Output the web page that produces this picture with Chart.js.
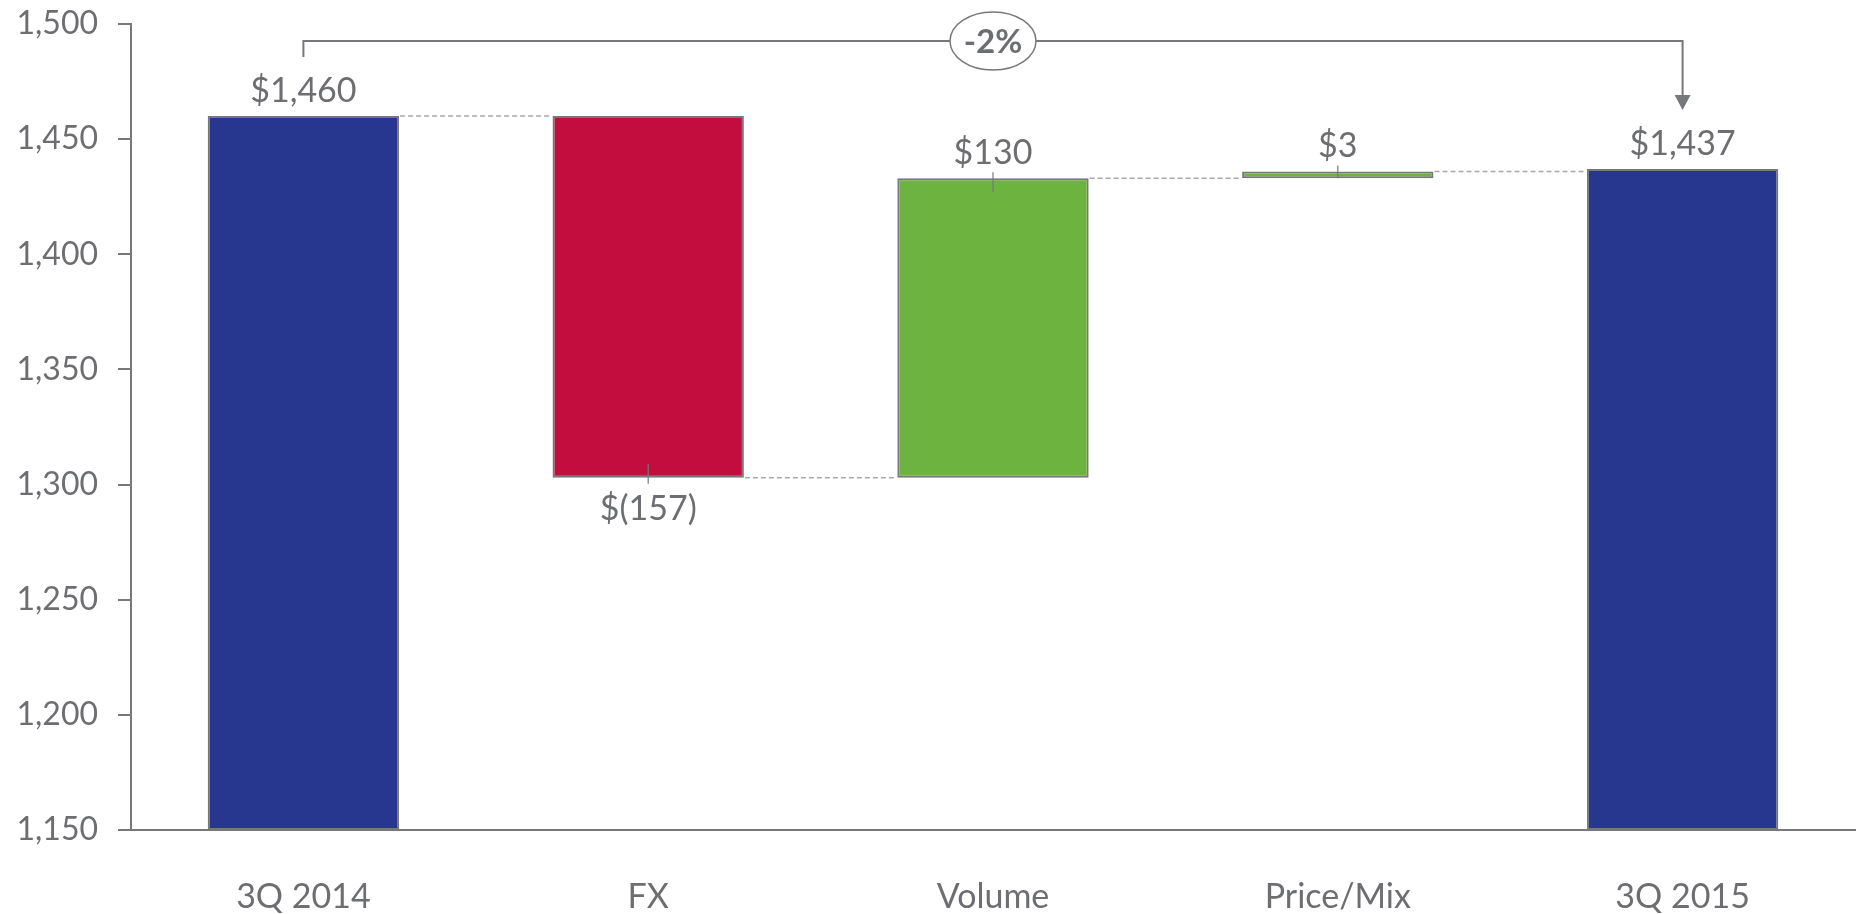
<!DOCTYPE html>
<html lang="en">
<head>
  <meta charset="UTF-8"/>
  <title>3Q Bridge</title>
  <script src="https://cdn.jsdelivr.net/npm/chart.js"></script>
  <style>
    body {
      margin: 0;
      background: #fff;
    }

    .wrap {
      width: 1862px;
      height: 914px;
      position: relative;
    }
  </style>
</head>
<body>
  <div class="wrap">
    <canvas id="bridgeChart"></canvas>
  </div>

  <script>
    const categories = ["3Q 2014", "FX", "Volume", "Price/Mix", "3Q 2015"];
    const startValue = 1460;
    const deltas = [-157, 130, 3];
    const endValue = 1437;
    const valueLabels = ["$1,460", "$(157)", "$130", "$3", "$1,437"];
    const barColors = ["#27378f", "#c30d3f", "#6db33f", "#6db33f", "#27378f"];
    const axisMin = 1150;
    const axisMax = 1500;
    const axisStep = 50;
    const changeLabel = "-2%";

    const grey = "#6d6e71";
    const lineGrey = "#77787b";

    // floating bar ranges + the level each bar ends at
    const ranges = [[axisMin, startValue]];
    const levels = [startValue];
    let running = startValue;
    deltas.forEach(d => {
      const next = running + d;
      ranges.push([Math.min(running, next), Math.max(running, next)]);
      levels.push(next);
      running = next;
    });
    ranges.push([axisMin, endValue]);
    levels.push(endValue);

    const bridgeExtras = {
      id: "bridgeExtras",
      afterDatasetsDraw(chart) {
        const ctx = chart.ctx;
        const bars = chart.getDatasetMeta(0).data;
        const x = chart.scales.x;
        const y = chart.scales.y;
        const area = chart.chartArea;

        ctx.save();

        // dashed connectors
        ctx.strokeStyle = "#a7a9ac";
        ctx.lineWidth = 1.5;
        ctx.setLineDash([5, 3]);
        for (let i = 0; i < bars.length - 1; i++) {
          const yy = y.getPixelForValue(levels[i]);
          ctx.beginPath();
          ctx.moveTo(bars[i].x + bars[i].width / 2 + 1, yy);
          ctx.lineTo(bars[i + 1].x - bars[i + 1].width / 2 - 1, yy);
          ctx.stroke();
        }
        ctx.setLineDash([]);

        // value labels
        ctx.fillStyle = grey;
        ctx.font = "34px Lato";
        ctx.textAlign = "center";
        ctx.textBaseline = "alphabetic";
        bars.forEach((bar, i) => {
          const top = Math.min(bar.y, bar.base);
          const bottom = Math.max(bar.y, bar.base);
          const isDelta = i > 0 && i < bars.length - 1;
          const down = isDelta && deltas[i - 1] < 0;
          if (down) {
            ctx.fillText(valueLabels[i], bar.x, bottom + 42);
          } else {
            ctx.fillText(valueLabels[i], bar.x, top - 14);
          }
          if (isDelta) {
            ctx.strokeStyle = lineGrey;
            ctx.lineWidth = 1.2;
            const inside = Math.min(14, bottom - top);
            ctx.beginPath();
            if (down) {
              ctx.moveTo(bar.x, bottom - inside);
              ctx.lineTo(bar.x, bottom + 6);
            } else {
              ctx.moveTo(bar.x, top - 6);
              ctx.lineTo(bar.x, top + inside);
            }
            ctx.stroke();
          }
        });

        // change bracket with arrow
        const x0 = x.getPixelForValue(0);
        const x1 = x.getPixelForValue(categories.length - 1);
        const by = area.top + 17;
        ctx.strokeStyle = lineGrey;
        ctx.lineWidth = 2;
        ctx.beginPath();
        ctx.moveTo(x0, area.top + 33);
        ctx.lineTo(x0, by);
        ctx.lineTo(x1, by);
        ctx.lineTo(x1, area.top + 72);
        ctx.stroke();
        ctx.fillStyle = lineGrey;
        ctx.beginPath();
        ctx.moveTo(x1 - 8, area.top + 71);
        ctx.lineTo(x1 + 8, area.top + 71);
        ctx.lineTo(x1, area.top + 86);
        ctx.closePath();
        ctx.fill();

        const cx = (x0 + x1) / 2;
        ctx.fillStyle = "#fff";
        ctx.beginPath();
        ctx.ellipse(cx, by, 43, 29, 0, 0, Math.PI * 2);
        ctx.fill();
        ctx.lineWidth = 1.5;
        ctx.stroke();
        ctx.fillStyle = grey;
        ctx.font = "bold 33px Lato";
        ctx.textBaseline = "middle";
        ctx.fillText(changeLabel, cx, by + 1);

        ctx.restore();
      }
    };

    Chart.defaults.font.family = "Lato";
    Chart.defaults.font.size = 34;
    Chart.defaults.color = grey;

    new Chart(document.getElementById("bridgeChart"), {
      type: "bar",
      data: {
        labels: categories,
        datasets: [{
          data: ranges,
          backgroundColor: barColors,
          borderColor: lineGrey,
          borderWidth: 2,
          borderSkipped: false,
          barPercentage: 0.555,
          categoryPercentage: 1
        }]
      },
      options: {
        responsive: true,
        maintainAspectRatio: false,
        animation: false,
        layout: { padding: { top: 24, right: 7, left: 0, bottom: 0 } },
        plugins: {
          legend: { display: false },
          tooltip: { enabled: false }
        },
        scales: {
          x: {
            grid: { display: false },
            border: { display: true, color: lineGrey, width: 2 },
            ticks: { padding: 39 },
            afterFit: s => { s.height = 84; }
          },
          y: {
            min: axisMin,
            max: axisMax,
            ticks: {
              stepSize: axisStep,
              padding: 20,
              font: { size: 32 },
              callback: v => v.toLocaleString("en-US")
            },
            grid: {
              drawOnChartArea: false,
              drawTicks: true,
              tickLength: 13,
              color: lineGrey,
              lineWidth: 2
            },
            border: { display: true, color: lineGrey, width: 2 },
            afterFit: s => {
              s.width = 131;
              s.paddingTop = 0;
            }
          }
        }
      },
      plugins: [bridgeExtras]
    });
  </script>
</body>
</html>
